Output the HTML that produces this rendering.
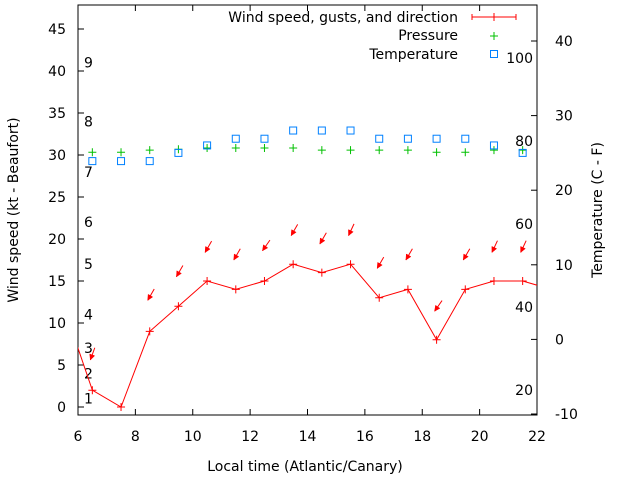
<!DOCTYPE html>
<html><head><meta charset="utf-8"><style>
body{margin:0;background:#fff}
svg{display:block;font-family:"DejaVu Sans","Liberation Sans",sans-serif}
</style></head><body>
<svg id="c" width="640" height="480"></svg>
<script>
const hours=[5.5,6.5,7.5,8.5,9.5,10.5,11.5,12.5,13.5,14.5,15.5,16.5,17.5,18.5,19.5,20.5,21.5,22.5];
const windKt=[12,2,0,9,12,15,14,15,17,16,17,13,14,8,14,15,15,14];
const arrowHours=[6.5,8.5,9.5,10.5,11.5,12.5,13.5,14.5,15.5,16.5,17.5,18.5,19.5,20.5,21.5];
const arrowKt=[5.6,12.7,15.5,18.4,17.5,18.6,20.4,19.4,20.4,16.5,17.5,11.4,17.5,18.4,18.4];
const arrowDir=[20,30,30,30,30,35,30,30,25,30,30,35,30,25,25];
const obsHours=[6.5,7.5,8.5,9.5,10.5,11.5,12.5,13.5,14.5,15.5,16.5,17.5,18.5,19.5,20.5,21.5];
const pressure=[77.3,77.3,77.8,78,78.3,78.3,78.3,78.3,77.8,77.8,77.8,77.8,77.3,77.3,77.8,77.8];
const tempC=[23.9,23.9,23.9,25,26,26.9,26.9,28,28,28,26.9,26.9,26.9,26.9,26,25];
const xTicks=[6,8,10,12,14,16,18,20,22];
const yTicks=[0,5,10,15,20,25,30,35,40,45];
const y2Ticks=[-10,0,10,20,30,40];
const beaufortKt=[1,4,7,11,17,22,28,34,41];
const beaufortLbl=["1","2","3","4","5","6","7","8","9"];
const fTicks=[100,80,60,40,20];

const L=78,R=537,T=5,B=415;
const X=h=>L+(h-6)/16*(R-L);
const Y=v=>407-v*8.4;
const Y2=v=>414-(v+10)*7.46;
const YP=v=>141-(v-80)*4.15;
const svg=document.getElementById('c');
const NS='http://www.w3.org/2000/svg';
function mk(t,a,p){const e=document.createElementNS(NS,t);for(const k in a)e.setAttribute(k,a[k]);(p||svg).appendChild(e);return e;}
function txt(s,x,y,anchor,name,extra){const e=mk('text',Object.assign({x:x,y:y,'font-size':14,fill:'#000','text-anchor':anchor},extra||{}));e.textContent=s;


return e;}
mk('defs',{}).innerHTML='<clipPath id="pc"><rect x="78" y="5" width="459" height="410"/></clipPath>';
const fr=mk('rect',{x:L,y:T,width:R-L,height:B-T,fill:'none',stroke:'#000','stroke-width':1});


xTicks.forEach(t=>{const x=X(t);
 mk('line',{x1:x,y1:B,x2:x,y2:B-6,stroke:'#000'});mk('line',{x1:x,y1:T,x2:x,y2:T+6,stroke:'#000'});
 txt(String(t),x,441,'middle','x-tick-label');});
yTicks.forEach(t=>{const y=Y(t);mk('line',{x1:L,y1:y,x2:L+6,y2:y,stroke:'#000'});
 txt(String(t),66,y+5,'end','y-tick-label');});
y2Ticks.forEach(t=>{const y=Y2(t);mk('line',{x1:R,y1:y,x2:R-6,y2:y,stroke:'#000'});
 txt(String(t),555,y+5,'start','y2-tick-label');});
beaufortKt.forEach((k,i)=>txt(beaufortLbl[i],84,Y(k)+5,'start','beaufort-label'));
fTicks.forEach(f=>txt(String(f),533,YP(f)+5,'end','fahrenheit-label'));
txt('Local time (Atlantic/Canary)',305,471,'middle','x-axis-title');
txt('Wind speed (kt - Beaufort)',18,210,'middle','y-axis-title',{transform:'rotate(-90 18 210)'});
txt('Temperature (C - F)',602,210,'middle','y2-axis-title',{transform:'rotate(-90 602 210)'});
const g=mk('g',{'clip-path':'url(#pc)'});


mk('polyline',{points:hours.map((h,i)=>X(h)+','+Y(windKt[i])).join(' '),fill:'none',stroke:'#f00','stroke-width':1},g);
hours.forEach((h,i)=>{const x=X(h),y=Y(windKt[i]);
 const p=mk('path',{d:`M${x-4},${y}h8M${x},${y-4}v8`,stroke:'#f00','stroke-width':1},g);
 
 });
arrowHours.forEach((h,i)=>{const hx=X(h)-2,hy=Y(arrowKt[i]);const a=arrowDir[i]*Math.PI/180;
 const tx=hx+13*Math.sin(a),ty=hy-13*Math.cos(a);
 const ang=Math.atan2(hy-ty,hx-tx);
 const p1=[hx-6*Math.cos(ang-0.45),hy-6*Math.sin(ang-0.45)],p2=[hx-6*Math.cos(ang+0.45),hy-6*Math.sin(ang+0.45)];
 const e=mk('g',{},g);
 
 
 mk('line',{x1:tx,y1:ty,x2:hx,y2:hy,stroke:'#f00'},e);
 mk('path',{d:`M${hx},${hy}L${p1[0]},${p1[1]}L${p2[0]},${p2[1]}Z`,fill:'#f00',stroke:'#f00','stroke-width':0.5},e);});
obsHours.forEach((h,i)=>{const x=X(h),y=YP(pressure[i]);
 const p=mk('path',{d:`M${x-4},${y}h8M${x},${y-4}v8`,stroke:'#00c000','stroke-width':1});
 
 });
obsHours.forEach((h,i)=>{const x=X(h),y=Y2(tempC[i]);
 const r=mk('rect',{x:x-3.5,y:y-3.5,width:7,height:7,fill:'none',stroke:'#0080ff','stroke-width':1});
 
 });
txt('Wind speed, gusts, and direction',458,22,'end','legend-wind-label');
mk('path',{d:'M472,17H516M472,14v6M516,14v6M494,13v8',stroke:'#f00','stroke-width':1});
txt('Pressure',458,40,'end','legend-pressure-label');
mk('path',{d:'M490,36h8M494,32v8',stroke:'#00c000'});
txt('Temperature',458,59,'end','legend-temperature-label');
mk('rect',{x:490.5,y:50.5,width:7,height:7,fill:'none',stroke:'#0080ff'});
</script>
</body></html>
